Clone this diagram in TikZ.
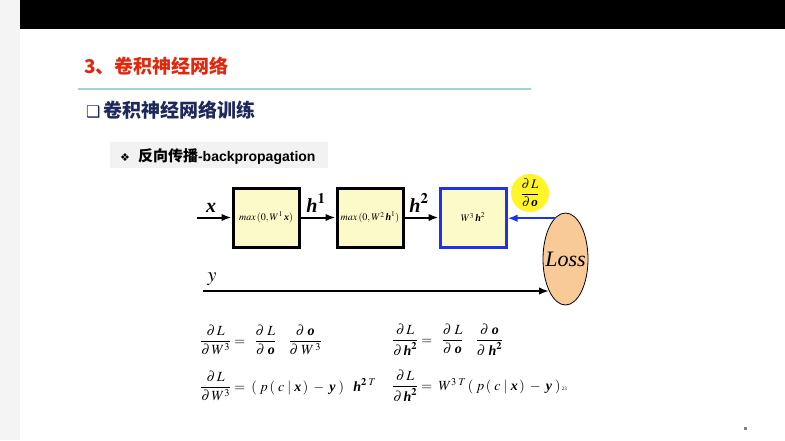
\documentclass[tikz,border=0pt]{standalone}
\usepackage{amsmath}
\usepackage{mathptmx}
\usepackage{fontspec}
\setmainfont{Liberation Serif}
\newfontfamily\cjk{Noto Sans CJK SC}
\newfontfamily\arialf{Liberation Sans}
\newfontfamily\dejavu{DejaVu Sans}
\usetikzlibrary{arrows.meta,shapes.geometric}
\newcommand\bv[1]{\text{\bfseries\itshape #1}}
\newcommand\pd{\partial}
\definecolor{titlered}{RGB}{225,40,15}
\definecolor{navy}{RGB}{30,40,90}
\definecolor{tealline}{RGB}{165,212,204}
\definecolor{boxfill}{RGB}{252,250,200}
\definecolor{boxblue}{RGB}{30,50,230}
\definecolor{circyellow}{RGB}{255,245,40}
\definecolor{losspeach}{RGB}{248,202,152}
\definecolor{hdrgray}{RGB}{242,242,242}
\definecolor{stripgray}{RGB}{244,244,244}
\tikzset{
  blockbox/.style={draw=black, line width=3pt, fill=boxfill, minimum width=66pt, minimum height=59pt, inner sep=0pt, font=\fontsize{10}{11}\selectfont},
  bluebox/.style={blockbox, draw=boxblue},
  arr/.style={line width=2pt, -{Latex[length=10pt,width=7.5pt]}},
  barr/.style={arr, draw=boxblue, -{Latex[length=10pt,width=7.5pt,fill=boxblue]}},
  biglbl/.style={font=\fontsize{20}{22}\selectfont, inner sep=0pt, anchor=base},
  eqn/.style={font=\fontsize{14}{16}\selectfont, inner sep=0pt, anchor=west},
}
\begin{document}
\begin{tikzpicture}[x=1pt,y=-1pt]
\useasboundingbox (0,0) rectangle (785,440);
% backgrounds
\fill[white] (0,0) rectangle (785,440);
\fill[stripgray] (0,0) rectangle (20,440);
\fill[black] (20,0) rectangle (785,29);
% titles
\node[anchor=base west, inner sep=0pt, text=titlered, font=\cjk\bfseries\fontsize{19}{21}\selectfont] (title) at (84,73) {3、卷积神经网络};
\draw[tealline, line width=2pt] (78,89) -- (531,89);
\node[anchor=base west, inner sep=0pt, text=navy, font=\fontsize{19}{21}\selectfont] (sub) at (86,117) {{\dejavu\fontsize{16}{17}\selectfont ❑}\hspace{3pt}{\cjk\bfseries 卷积神经网络训练}};
\fill[hdrgray] (110,142) rectangle (328,168);
\node[anchor=base west, inner sep=0pt, font=\fontsize{15}{17}\selectfont] (hdr) at (120,161) {{\dejavu\fontsize{11}{12}\selectfont ❖}\hspace{8pt}{\cjk\bfseries 反向传播}{\arialf\bfseries\fontsize{14}{16}\selectfont -backpropagation}};
% diagram
\node[blockbox] (b1) at (266,217.5) {$max\,(0,W^{1}\,\bv{x})$};
\node[blockbox] (b2) at (370,217.5) {$max\,(0,W^{2}\,\bv{h}^{1})$};
\node[bluebox] (b3) at (473,217.5) {$W^{3}\,\bv{h}^{2}$};
\node[ellipse, draw=black, line width=0.8pt, fill=losspeach, minimum width=45pt, minimum height=92pt, inner sep=0pt] (loss) at (565.5,259) {};
\node[font=\fontsize{22}{24}\selectfont\itshape, inner sep=0pt] (losstxt) at (565.5,259) {Loss};
\node[circle, fill=circyellow, minimum size=38pt, inner sep=0pt, font=\fontsize{13}{15}\selectfont] (dLdo) at (530,193) {$\dfrac{\pd\,L}{\pd\,\bv{o}}$};
\coordinate (xs) at (197,217.5);
\coordinate (ys) at (203,291);
\draw[arr] (xs) -- (b1.west);
\draw[arr] (b1.east) -- (b2.west);
\draw[arr] (b2.east) -- (b3.west);
\draw[barr] (loss.105.5) -- (loss.105.5 -| b3.east);
\draw[arr] (ys) -- (ys -| loss.243);
\node[biglbl] (xl) at (211,212) {$\bv{x}$};
\node[biglbl] (h1l) at (316,212) {$\bv{h}^{\mathbf{1}}$};
\node[biglbl] (h2l) at (419,212) {$\bv{h}^{\mathbf{2}}$};
\node[biglbl] (yl) at (212,281) {$y$};
% equations
\node[eqn] (e1) at (200,340) {$\dfrac{\pd\, L}{\pd\, W^{3}} = \;\;\dfrac{\pd\; L}{\pd\; \bv{o}}\hspace{12pt}\dfrac{\pd\; \bv{o}}{\pd\; W^{\,3}}$};
\node[eqn] (e2) at (392,340) {$\dfrac{\pd\, L}{\pd\, \bv{h}^{\mathbf{2}}} = \;\;\dfrac{\pd\; L}{\pd\; \bv{o}}\hspace{12pt}\dfrac{\pd\; \bv{o}}{\pd\; \bv{h}^{\mathbf{2}}}$};
\node[eqn] (e3) at (200,386) {$\dfrac{\pd\, L}{\pd\, W^{3}} = \;(\;p\,(\;c\;|\;\bv{x}\,)\;-\;\bv{y}\;)\;\;\;\bv{h}^{\mathbf{2}\;T}$};
\node[eqn] (e4) at (392,386) {$\dfrac{\pd\, L}{\pd\, \bv{h}^{\mathbf{2}}} = \;W^{3\;T}\,(\;p\,(\;c\;|\;\bv{x}\,)\;-\;\bv{y}\;)$};
\node[inner sep=0pt, anchor=west, font=\fontsize{5}{6}\selectfont] (pg) at ([yshift=-3pt]e4.east) {\,23};
\fill[gray] (743.5,426.5) rectangle (746.5,429.5);
\end{tikzpicture}
\end{document}
